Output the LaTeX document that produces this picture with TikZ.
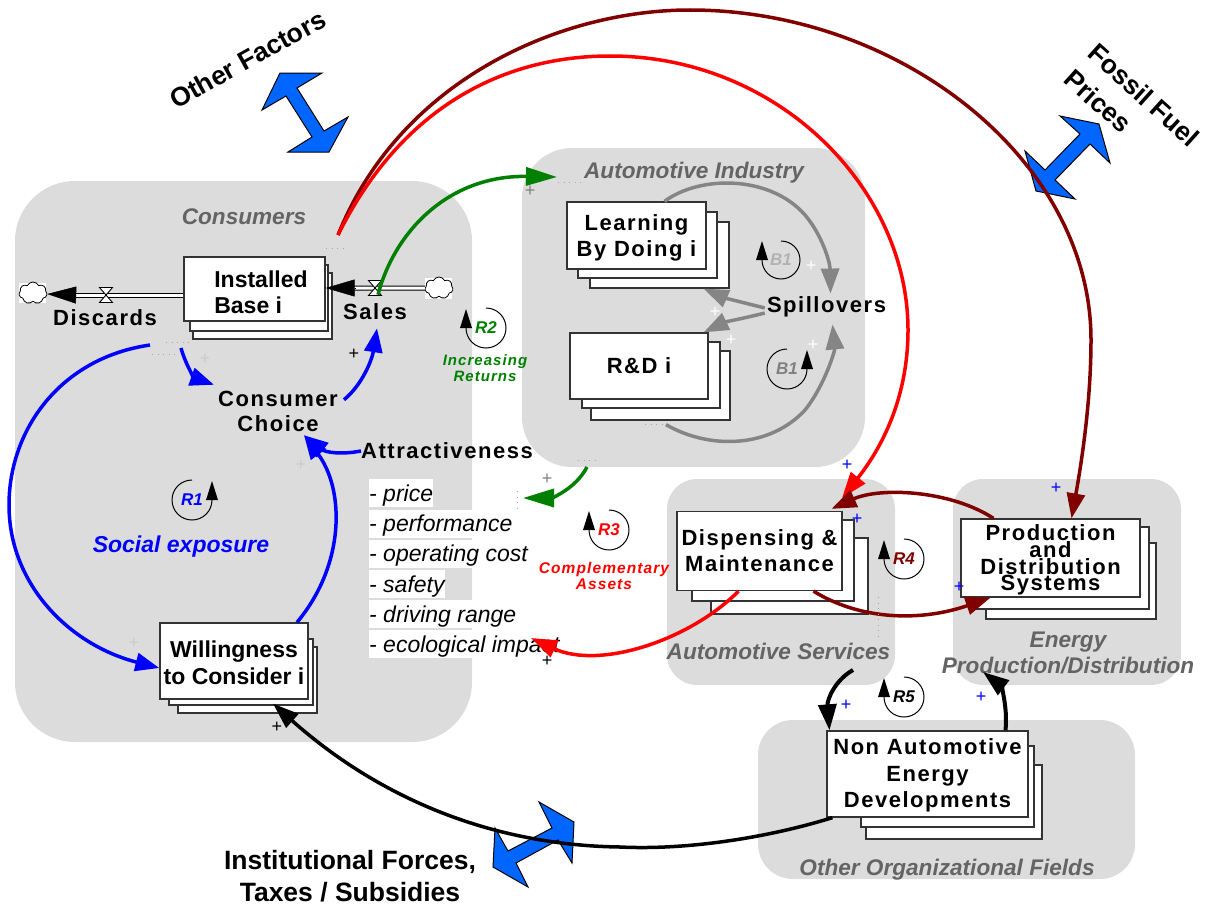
\documentclass[tikz,border=0pt]{standalone}
\usepackage{fontspec}
\setmainfont{Liberation Sans}
\newfontfamily\lsp[LetterSpace=7]{Liberation Sans}
\usetikzlibrary{arrows.meta,calc,shapes.symbols}
\definecolor{panel}{HTML}{DCDCDC}
\definecolor{lab}{HTML}{646464}
\definecolor{gline}{HTML}{858585}
\definecolor{dred}{HTML}{800000}
\definecolor{dgreen}{HTML}{008000}
\definecolor{bblue}{HTML}{0066FF}
\definecolor{edgeg}{HTML}{333333}
\newcommand\fs[2]{\fontsize{#1}{#2}\selectfont}
% text sits half of #1 lower than the centre of its box
\newcommand\lowered[2]{\vbox{\kern#1\hbox{#2}}}
\newcommand\lines[2]{\begin{tabular}{@{}#1@{}}#2\end{tabular}}
\tikzset{
  panelbox/.style={fill=panel,draw=none},
  mainbox/.style={draw=edgeg,fill=white,line width=1.3pt,inner sep=0pt,align=center,font=\bfseries\fs{23}{26}},
  spacedbox/.style={mainbox,font=\lsp\bfseries\fs{22}{26}},
  backbox/.style={draw=edgeg,fill=white,line width=1.3pt},
  vartext/.style={inner sep=0pt,align=center,font=\lsp\bfseries\fs{22}{25.5}},
  grouplabel/.style={inner sep=0pt,align=center,text=lab,font=\bfseries\itshape\fs{22.6}{26}},
  attr/.style={anchor=west,fill=white,inner sep=0pt,text height=22pt,text depth=6pt,font=\itshape\fs{23}{26}},
  bigtext/.style={inner sep=0pt,align=center,font=\bfseries\fs{26.5}{32}},
  blockarrow/.style={fill=bblue,draw=black,line width=1pt,line join=miter},
  bluearrow/.style={draw=blue,line width=3.5pt,-{Triangle[length=24pt,width=18pt]}},
  redarrow/.style={draw=red,line width=3.5pt,-{Triangle[length=26pt,width=18pt]}},
  darkarrow/.style={draw=dred,line width=3.5pt,-{Triangle[length=25pt,width=18pt]}},
  greenarrow/.style={draw=dgreen,line width=3.5pt,-{Triangle[length=31pt,width=18pt]}},
  grayarrow/.style={draw=gline,line width=3.5pt,-{Triangle[length=25pt,width=18pt]}},
  blackarrow/.style={draw=black,line width=4pt,-{Triangle[length=26pt,width=18pt]}},
  flow/.style={double=white,draw=black,line width=1pt,double distance=3pt},
  flowhead/.style={draw=black,line width=.5pt,-{Triangle[length=29pt,width=17pt,fill=black]}},
  dots/.style={draw=gray!70,line width=.9pt,dash pattern=on 1pt off 4.5pt},
  pm/.style={inner sep=0pt,font=\fs{18}{18}},
  loopline/.style={draw=black,line width=1pt},
  looplabel/.style={inner sep=0pt,font=\bfseries\itshape\fs{17}{17}},
  smalllabel/.style={inner sep=0pt,align=center,font=\lsp\bfseries\itshape\fs{15.5}{16}},
  cloudnode/.style={cloud,cloud puffs=7,cloud puff arc=130,draw,fill=white,line width=.8pt,minimum width=28pt,minimum height=22pt,inner sep=0pt},
}
% back sheets of a stack: second sheet, third sheet
\newcommand\sheets[8]{%
  \draw[backbox] (#5,#6) rectangle (#7,#8);
  \draw[backbox] (#1,#2) rectangle (#3,#4);}
% loop whose arrow stands on the left
\newcommand\loopL[4]{%
  \draw[loopline] (#1,#2-#3) arc[start angle=-90,end angle=180,radius=#3];
  \fill[black] (#1-#3-6,#2) -- (#1-#3,#2-19) -- (#1-#3+6,#2) -- cycle;
  \node[looplabel,text=#4] at (#1,#2) {\loopname};}
% loop whose arrow stands on the right
\newcommand\loopR[4]{%
  \draw[loopline] (#1,#2-#3) arc[start angle=-90,end angle=-360,radius=#3];
  \fill[black] (#1+#3-6,#2) -- (#1+#3,#2-19) -- (#1+#3+6,#2) -- cycle;
  \node[looplabel,text=#4] at (#1,#2) {\loopname};}
\newcommand\valve[2]{%
  \draw[fill=white,line width=.9pt] (#1-6.5,#2-7.5) -- (#1+6.5,#2-7.5) -- (#1-6.5,#2+7.5) -- (#1+6.5,#2+7.5) -- cycle;}
\begin{document}
\begin{tikzpicture}[x=1pt,y=-1pt]
\useasboundingbox (0,0) rectangle (1209,907);
% panels
\fill[panelbox,rounded corners=60pt] (15,181) rectangle (472,742);
\fill[panelbox,rounded corners=50pt] (522,148) rectangle (865,467);
\fill[panelbox,rounded corners=30pt] (667,479) rectangle (895,685);
\fill[panelbox,rounded corners=30pt] (953,479) rectangle (1181,685);
\fill[panelbox,rounded corners=35pt] (758,720) rectangle (1135,879);
% panel labels
\node[grouplabel] (lcons) at (244,217) {Consumers};
\node[grouplabel] (lauto) at (694,173) {Automotive Industry};
\node[grouplabel] (lserv) at (778.5,651.5) {Automotive Services};
\node[grouplabel] (lener) at (1068,652.5) {Energy\\Production/Distribution};
\node[grouplabel] (lorg) at (947,870) {Other Organizational Fields};
% block arrows
\draw[blockarrow] (280,73) -- (322,73) -- (297,88) -- (324,131) -- (348,117) -- (329,152) -- (288,152) -- (312,137) -- (286,96) -- (262,110) -- cycle;
\draw[blockarrow] (1060,116) -- (1099,124) -- (1110,163) -- (1090,144) -- (1055,180) -- (1075,199) -- (1036,191) -- (1025,151) -- (1045,170) -- (1080,134) -- cycle;
\draw[blockarrow] (539,802) -- (574,822) -- (572,863) -- (558,840) -- (516,863) -- (528,887) -- (493,867) -- (495,828) -- (508,851) -- (552,828) -- cycle;
% big labels
\node[bigtext,rotate=29] (tother) at (247.5,59) {Other Factors};
\node[bigtext,rotate=-42] (tfossil) at (1144,95) {Fossil Fuel};
\node[bigtext,rotate=-42] (tprices) at (1098,101) {Prices};
\node[bigtext] (tinst) at (350,876) {Institutional Forces,\\Taxes / Subsidies};
% attribute list
\node[attr] (a1) at (369,493) {- price};
\node[attr] (a2) at (369,523.5) {- performance};
\node[attr] (a3) at (369,553.5) {- operating cost};
\node[attr] (a4) at (369,584) {- safety};
\node[attr] (a5) at (369,614) {- driving range};
\node[attr] (a6) at (369,644) {- ecological impact};
% stacks
\sheets{190}{265}{328}{331}{193}{273}{332}{339}
\node[mainbox,minimum width=141pt,minimum height=64pt] (ib) at (254.5,289) {\hspace*{13pt}\lowered{12pt}{\lines{l}{Installed\\Base i}}};
\sheets{578}{212}{717}{278}{590}{222}{729}{288}
\node[spacedbox,minimum width=139pt,minimum height=67pt] (lbd) at (636.5,235.5) {\lowered{6pt}{\lines{c}{Learning\\By Doing i}}};
\sheets{582}{342}{720}{408}{591}{351}{730}{420}
\node[spacedbox,minimum width=138pt,minimum height=66pt] (rd) at (639,366) {R\&D i};
\sheets{692}{520}{854}{601}{711}{538}{868}{614}
\node[spacedbox,minimum width=165pt,minimum height=79pt] (disp) at (759.5,551) {Dispensing \&\\Maintenance};
\sheets{977}{527}{1149}{609}{986}{543}{1156}{619}
\node[spacedbox,minimum width=179pt,minimum height=78pt] (prod) at (1050.5,558) {\lowered{4pt}{\parbox{175pt}{\centering\lsp\bfseries\fs{22}{16.7}\lineskiplimit=-100pt Production\\and\\Distribution\\Systems\par}}};
\sheets{169}{639}{313}{705}{178}{647}{317}{713}
\node[mainbox,font=\bfseries\fs{23}{27},minimum width=148pt,minimum height=76pt] (will) at (234,661) {\lowered{9pt}{\lines{c}{Willingness\\to Consider i}}};
\sheets{861}{746}{1034}{827}{866}{765}{1042}{839}
\node[spacedbox,font=\lsp\bfseries\fs{22}{26.5},minimum width=201pt,minimum height=86pt] (nonauto) at (927.5,774) {\lowered{4pt}{\lines{c}{Non Automotive\\Energy\\Developments}}};
% variables
\node[vartext] (disc) at (105,318) {Discards};
\node[vartext] (sales) at (375,312) {Sales};
\node[vartext] (choice) at (278,411.5) {Consumer\\Choice};
\node[vartext] (attr) at (447,451) {Attractiveness};
\node[vartext] (spill) at (826.5,307) {Spillovers};
% clouds and flows
\fill[white] (425,278) rectangle (452,299);
\fill[white] (19,283) rectangle (46,303);
\node[cloudnode] (cS) at (439,288) {};
\node[cloudnode] (cD) at (33,293) {};
\draw[flow] (cS.west) -- ($(ib.east)+(28,-1)$);
\draw[flow] (ib.west |- 0,295.5) -- (74,295.5);
\draw[flowhead] ($(ib.east)+(29,-1)$) -- (ib.east |- 0,288);
\draw[flowhead] (75,295) -- (cD.east |- 0,294);
\valve{375}{288}
\valve{106}{295}
% loop symbols
\def\loopname{R1}\loopR{192}{500}{20}{blue}
\def\loopname{R2}\loopL{486}{328}{20}{dgreen}
\def\loopname{R3}\loopL{609}{530}{20}{red}
\def\loopname{R4}\loopL{904}{559}{20}{dred}
\def\loopname{R5}\loopL{904}{697}{20}{black}
\def\loopname{B1}\loopL{781}{260}{19}{black!30}
\def\loopname{B1}\loopR{787}{369}{20}{gray}
% loop captions
\node[inner sep=0pt,text=blue,font=\bfseries\itshape\fs{23}{26}] (social) at (181,547) {Social exposure};
\node[smalllabel,font=\lsp\bfseries\itshape\fs{15}{16},text=dgreen] (incr) at (485,368.5) {Increasing\\Returns};
\node[smalllabel,text=red] (compl) at (604,576) {Complementary\\Assets};
% connectors
\coordinate (ibtop) at (338,235);
\coordinate (ibbot) at (150,345);
\coordinate (ibbot2) at (181,348);
\draw[bluearrow] (ibbot) .. controls (60,358) and (9,430) .. (9,505) .. controls (9,585) and (70,645) .. ($(will.west)+(0,7)$);
\draw[bluearrow] (ibbot2) .. controls (186,366) and (195,378) .. ($(choice.north west)+(-4,-6)$);
\draw[bluearrow] ($(choice.north east)+(6,9)$) .. controls (362,385) and (372,360) .. ($(sales.south)+(2,8)$);
\draw[bluearrow] (attr.west) .. controls (340,455) and (325,452) .. ($(choice.south)+(26,3)$);
\draw[bluearrow] ($(will.north)+(63,0)$) .. controls (345,565) and (345,490) .. ($(choice.south)+(26,3)$);
\draw[greenarrow] ($(sales.north)+(3,-9)$) .. controls (395,230) and (450,175) .. (557,177);
\coordinate (autobot) at (587,467);
\draw[greenarrow] (autobot) .. controls (575,490) and (550,498) .. (523,498);
\draw[darkarrow] (ibtop) .. controls (400,80) and (560,10) .. (690,10) .. controls (900,10) and (1091,160) .. (1091,340) .. controls (1091,400) and (1082,460) .. ($(prod.north)+(21,0)$);
\draw[redarrow] (ibtop) .. controls (400,110) and (500,56) .. (610,56) .. controls (780,56) and (908,190) .. (908,330) .. controls (908,400) and (880,450) .. (842,498);
\draw[darkarrow] ($(prod.north)+(-57,0)$) .. controls (950,490) and (880,487) .. ($(disp.north)+(72,-2)$);
\draw[darkarrow] ($(disp.south)+(54,0)$) .. controls (860,620) and (920,622) .. ($(prod.south)+(-60,0)$);
\draw[redarrow] ($(disp.south)+(-21,0)$) .. controls (690,640) and (600,670) .. (531,638);
\coordinate (servbot) at (853,670);
\coordinate (enerbot) at (983,672);
\draw[blackarrow] (servbot) .. controls (835,680) and (827,700) .. ($(nonauto.north)+(-98,0)$);
\draw[blackarrow] ($(nonauto.north)+(78,0)$) .. controls (1008,705) and (1000,685) .. (enerbot);
\draw[blackarrow,line width=3.5pt] ($(nonauto.south west)+(6,0)$) .. controls (760,840) and (680,850) .. (620,847) .. controls (480,845) and (370,790) .. ($(will.south)+(39,4)$);
\draw[grayarrow] ($(lbd.north)+(28,0)$) .. controls (700,175) and (770,175) .. (805,215) .. controls (822,235) and (830,262) .. ($(spill.north)+(4,-3)$);
\draw[grayarrow] ($(rd.south)+(27,25)$) .. controls (710,450) and (770,448) .. (805,410) .. controls (825,385) and (835,350) .. ($(spill.south)+(6,7)$);
\draw[grayarrow] ($(spill.west)+(-2,1)$) .. controls (745,303) and (725,298) .. ($(lbd.south east)+(-3,19)$);
\draw[grayarrow] ($(spill.west)+(-2,6)$) .. controls (745,318) and (725,322) .. ($(rd.north east)+(-5,0)$);
% signs
\foreach \n/\x/\y in {p1/205/359,p2/301/465,p3/134/643}{\node[pm,text=black!20] (\n) at (\x,\y) {+};}
\foreach \n/\x/\y in {p4/530/191,p5/547/479}{\node[pm,text=gray] (\n) at (\x,\y) {+};}
\foreach \n/\x/\y in {p6/354/354,p7/277/727,p8/547/661}{\node[pm,text=black] (\n) at (\x,\y) {+};}
\foreach \n/\x/\y in {p9/811/266,p10/715/312,p11/731/340,p12/813/345}{\node[pm,text=white] (\n) at (\x,\y) {+};}
\foreach \n/\x/\y in {p13/847/465,p14/857/519,p15/1056/488,p16/959/587,p17/846/705,p18/981/697}{\node[pm,text=blue] (\n) at (\x,\y) {+};}
% dotted trace marks
\draw[dots] (326,248) -- (345,248);
\draw[dots] (166,342) -- (191,342);
\draw[dots] (152,354) -- (176,354);
\draw[dots] (558,182) -- (582,182);
\draw[dots] (645,424) -- (662,424);
\draw[dots] (578,460) -- (600,460);
\draw[dots] (517,491) -- (517,512);
\draw[dots] (878,597) -- (878,640);
\end{tikzpicture}
\end{document}
